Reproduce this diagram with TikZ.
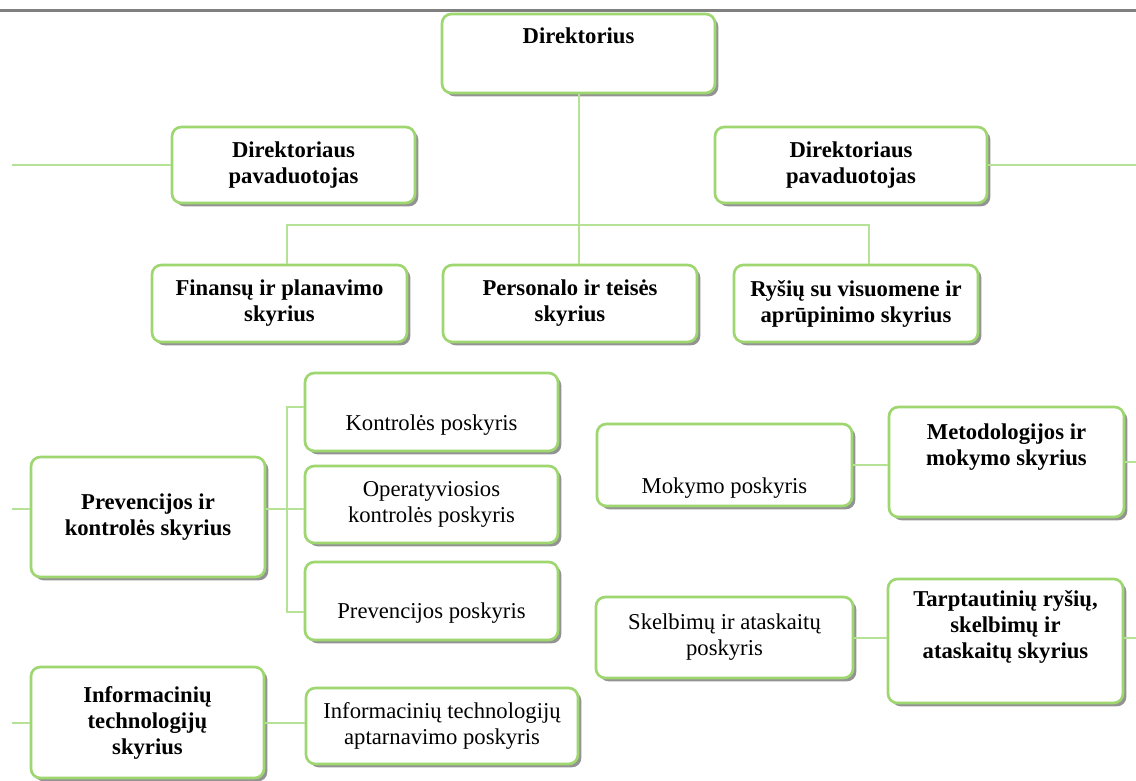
\documentclass[tikz,border=0pt]{standalone}
\usepackage{fontspec}
\setmainfont{Liberation Serif}
\usetikzlibrary{shadows}

\definecolor{boxgreen}{RGB}{158,214,112}
\definecolor{linkgreen}{RGB}{182,226,150}
\definecolor{rulegray}{RGB}{128,128,128}

\tikzset{
  unit/.style={draw=boxgreen, line width=2pt, rounded corners=7pt, fill=white,
    align=center, inner sep=2pt,
    drop shadow={shadow xshift=2.5pt, shadow yshift=-2.5pt, fill=black!70, opacity=0.6},
    font=\fontsize{17}{19.5}\selectfont},
  head/.style={unit, font=\fontsize{17}{19.5}\selectfont\bfseries},
  link/.style={draw=linkgreen, line width=1.5pt},
}

\begin{document}
\begin{tikzpicture}[x=0.75pt, y=-0.75pt]
      \useasboundingbox[fill=white] (0,0) rectangle (1136,781);
      \draw [rulegray, line width=2.4pt] (0,10.5) -- (1136,10.5);
      \coordinate (lrim) at (12,0);
      \coordinate (rim) at (1136,0);

      % top of the tree
      \node [head, minimum width=204.75pt, inner ysep=0pt, text height=22.5pt, text depth=36.75pt]
            (dir) at (578.5,53.5) {Direktorius};
      \node [head, minimum width=182.25pt, minimum height=57pt] (depL) at (293.5,165) {Direktoriaus\\pavaduotojas};
      \node [head, minimum width=204pt, minimum height=57pt] (depR) at (851,165) {Direktoriaus\\pavaduotojas};
      \node [head, minimum width=191.25pt, minimum height=57.75pt] (fin) at (279.5,303.5) {Finansų ir planavimo\\skyrius};
      \node [head, minimum width=190.5pt, minimum height=57.75pt] (per) at (570,303.5) {Personalo ir teisės\\skyrius};
      \node [head, minimum width=183pt, minimum height=57.75pt] (rys) at (856,303.5) {Ryšių su visuomene ir\\aprūpinimo skyrius};

      \coordinate (barL) at (287,225);
      \coordinate (barR) at (869,225);
      \draw [link] (dir.south) -- (dir.south |- per.north);
      \draw [link] (fin.north -| barL) -- (barL) -- (barR) -- (rys.north -| barR);
      \draw [link] (depL.west) -- (depL.west -| lrim);
      \draw [link] (depR.east) -- (depR.east -| rim);

      % left column
      \node [head, minimum width=175.5pt, minimum height=90pt] (prev) at (148,517) {Prevencijos ir\\kontrolės skyrius};
      \node [unit, minimum width=189.75pt, inner ysep=0pt, text height=42.75pt, text depth=15.75pt]
            (kon) at (431.5,412) {Kontrolės poskyris};
      \node [unit, minimum width=189.75pt, minimum height=57.75pt] (op) at (431.5,504.5) {Operatyviosios\\kontrolės poskyris};
      \node [unit, minimum width=189.75pt, inner ysep=0pt, text height=42pt, text depth=16.5pt]
            (pp) at (431.5,601) {Prevencijos poskyris};
      \node [head, minimum width=174.75pt, minimum height=83.25pt] (it) at (147.5,722.5) {Informacinių\\technologijų\\skyrius};
      \node [unit, minimum width=204pt, minimum height=57pt] (ita) at (442,726) {Informacinių technologijų\\aptarnavimo poskyris};

      \coordinate (brkT) at (287,407);
      \coordinate (brkB) at (287,612);
      \coordinate (pk) at ([yshift=6pt]prev.east);
      \coordinate (pw) at ([yshift=6pt]prev.west);
      \draw [link] (kon.west |- brkT) -- (brkT) -- (brkB) -- (pp.west |- brkB);
      \draw [link] (pk) -- (pk -| op.west);
      \draw [link] (pw) -- (pw -| lrim);
      \draw [link] (it.east) -- (it.east -| ita.west);
      \draw [link] (it.west) -- (it.west -| lrim);

      % right column
      \node [unit, minimum width=191.25pt, inner ysep=0pt, text height=51.75pt, text depth=9.75pt]
            (mok) at (724.5,465) {Mokymo poskyris};
      \node [head, minimum width=176.25pt, minimum height=82.5pt] (met) at (1006.5,462) {Metodologijos ir\\mokymo skyrius\\\strut};
      \node [unit, minimum width=192.75pt, minimum height=60.75pt] (skel) at (724.5,637.5) {Skelbimų ir ataskaitų\\poskyris};
      \node [head, minimum width=176.25pt, minimum height=93pt] (tar) at (1005.5,641) {Tarptautinių ryšių,\\skelbimų ir\\ataskaitų skyrius\\\strut};

      \draw [link] (mok.east) -- (mok.east -| met.west);
      \draw [link] (met.east) -- (met.east -| rim);
      \draw [link] (skel.east) -- (skel.east -| tar.west);
      \draw [link] (skel.east -| tar.east) -- (skel.east -| rim);
\end{tikzpicture}
\end{document}
